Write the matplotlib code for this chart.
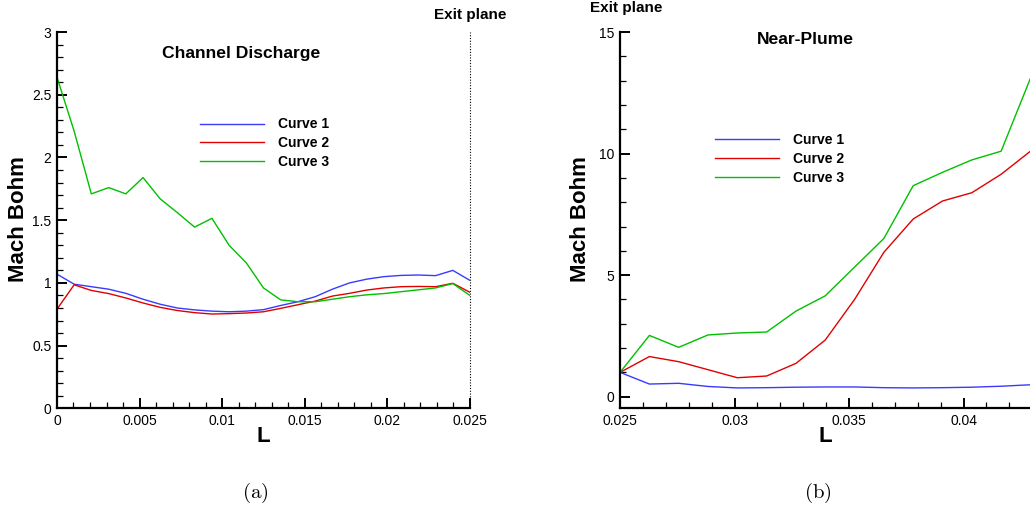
import matplotlib
matplotlib.use("Agg")
from matplotlib import pyplot as plt
from matplotlib.ticker import MultipleLocator, FuncFormatter

plt.rcParams['font.family'] = ['Liberation Sans', 'DejaVu Sans']
plt.rcParams['mathtext.fontset'] = 'cm'

# channel discharge region, L from 0 to the exit plane
L_channel = [0.0, 0.00104, 0.00208, 0.00313, 0.00417, 0.00521, 0.00625, 0.00729,
             0.00833, 0.00938, 0.01042, 0.01146, 0.0125, 0.01354, 0.01458, 0.01563,
             0.01667, 0.01771, 0.01875, 0.01979, 0.02083, 0.02188, 0.02292, 0.02396, 0.025]
ch_curve1 = [1.07, 0.99, 0.97, 0.95, 0.917, 0.87, 0.83, 0.80, 0.785, 0.775, 0.77, 0.775,
             0.787, 0.82, 0.85, 0.89, 0.95, 1.0, 1.03, 1.05, 1.06, 1.063, 1.058, 1.10, 1.02]
ch_curve2 = [0.79, 0.985, 0.94, 0.915, 0.88, 0.84, 0.805, 0.78, 0.763, 0.752, 0.755, 0.76,
             0.77, 0.797, 0.826, 0.855, 0.895, 0.917, 0.943, 0.96, 0.97, 0.972, 0.97, 0.997, 0.925]
ch_curve3 = [2.64, 2.21, 1.71, 1.76, 1.71, 1.84, 1.67, 1.56, 1.445, 1.515, 1.30, 1.16,
             0.96, 0.865, 0.85, 0.85, 0.87, 0.89, 0.905, 0.915, 0.93, 0.945, 0.96, 0.995, 0.90]

# near-plume region, downstream of the exit plane
L_plume = [0.025, 0.02628, 0.02756, 0.02884, 0.03012, 0.0314, 0.03268, 0.03396,
           0.03524, 0.03652, 0.0378, 0.03908, 0.04036, 0.04164, 0.04292]
pl_curve1 = [1.0, 0.52, 0.55, 0.42, 0.36, 0.37, 0.39, 0.40, 0.40, 0.37, 0.36, 0.37, 0.39, 0.43, 0.49]
pl_curve2 = [1.0, 1.65, 1.44, 1.11, 0.78, 0.85, 1.37, 2.33, 4.0, 5.94, 7.31, 8.05, 8.39, 9.15, 10.1]
pl_curve3 = [1.0, 2.52, 2.03, 2.54, 2.62, 2.66, 3.52, 4.15, 5.33, 6.51, 8.68, 9.23, 9.74, 10.1, 13.1]

labels = ['Curve 1', 'Curve 2', 'Curve 3']
colors = ['#3a3aff', '#e00000', '#00c000']

fig = plt.figure(figsize=(10.3, 5.13), dpi=100)
ax1 = fig.add_axes([0.0553, 0.204, 0.401, 0.7335])
ax2 = fig.add_axes([0.602, 0.204, 0.398, 0.7335])


def style_axes(ax):
    for side in ['top', 'right']:
        ax.spines[side].set_visible(False)
    for side in ['left', 'bottom']:
        ax.spines[side].set_linewidth(1.6)
    ax.tick_params(which='major', direction='in', length=7, width=1.4, labelsize=10, pad=4)
    ax.tick_params(which='minor', direction='in', length=4.3, width=0.9)
    ax.xaxis.set_major_formatter(FuncFormatter(lambda v, p: '%g' % round(v, 6)))
    ax.yaxis.set_major_formatter(FuncFormatter(lambda v, p: '%g' % round(v, 6)))


for y, lab, c in zip([ch_curve1, ch_curve2, ch_curve3], labels, colors):
    ax1.plot(L_channel, y, color=c, lw=1.0, label=lab)
ax1.axvline(0.025, color='black', lw=0.8, ls=(0, (1, 1.5)), clip_on=False)
ax1.set_xlim(0, 0.025)
ax1.set_ylim(0, 3)
ax1.xaxis.set_major_locator(MultipleLocator(0.005))
ax1.xaxis.set_minor_locator(MultipleLocator(0.001))
ax1.yaxis.set_major_locator(MultipleLocator(0.5))
ax1.yaxis.set_minor_locator(MultipleLocator(0.1))
style_axes(ax1)
ax1.text(0.01116, 2.83, 'Channel Discharge', ha='center', va='center',
         fontsize=12.6, fontweight='bold')
ax1.legend(loc='upper left', bbox_to_anchor=(0.347, 0.773), frameon=False,
           prop={'weight': 'bold', 'size': 10}, handlelength=4.6,
           handletextpad=1.0, labelspacing=0.35, borderpad=0, borderaxespad=0)

for y, lab, c in zip([pl_curve1, pl_curve2, pl_curve3], labels, colors):
    ax2.plot(L_plume, y, color=c, lw=1.0, label=lab)
ax2.set_xlim(0.025, 0.0429)
ax2.set_ylim(-0.48, 15)
ax2.xaxis.set_major_locator(MultipleLocator(0.005))
ax2.xaxis.set_minor_locator(MultipleLocator(0.001))
ax2.yaxis.set_major_locator(MultipleLocator(5))
ax2.yaxis.set_minor_locator(MultipleLocator(1))
style_axes(ax2)
ax2.text(0.0331, 14.7, 'Near-Plume', ha='center', va='center',
         fontsize=12.6, fontweight='bold')
ax2.legend(loc='upper left', bbox_to_anchor=(0.232, 0.732), frameon=False,
           prop={'weight': 'bold', 'size': 10}, handlelength=4.6,
           handletextpad=1.0, labelspacing=0.35, borderpad=0, borderaxespad=0)

for ax in [ax1, ax2]:
    ax.set_ylabel('Mach Bohm', fontsize=16, fontweight='bold')
    ax.set_xlabel('L', fontsize=16, fontweight='bold')
    ax.xaxis.set_label_coords(0.5, -0.048)
ax1.yaxis.set_label_coords(-0.067, 0.503)
ax2.yaxis.set_label_coords(-0.071, 0.503)

fig.text(470 / 1030, 1 - 15 / 513, 'Exit plane', ha='center', va='center',
         fontsize=11, fontweight='bold')
fig.text(626 / 1030, 1 - 8 / 513, 'Exit plane', ha='center', va='center',
         fontsize=11, fontweight='bold')

fig.text(255 / 1030, 1 - 493 / 513, r'$\mathrm{(a)}$', ha='center', va='center', fontsize=15)
fig.text(818 / 1030, 1 - 493 / 513, r'$\mathrm{(b)}$', ha='center', va='center', fontsize=15)

fig.savefig('out.png', dpi=100)
